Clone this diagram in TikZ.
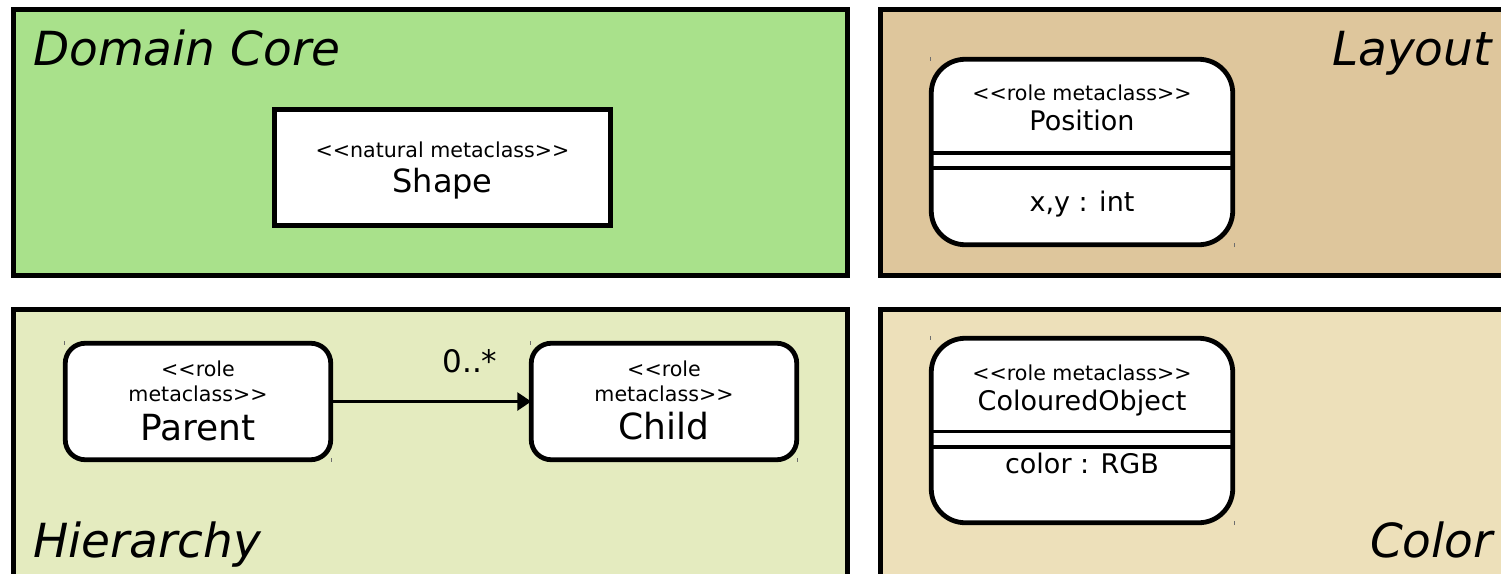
\documentclass[tikz,border=0pt]{standalone}
\usepackage{fontspec}
\setmainfont{DejaVu Sans}[Ligatures=TeXOff]
\usetikzlibrary{arrows.meta}

\definecolor{coreGreen}{RGB}{169,225,139}
\definecolor{layoutTan}{RGB}{222,198,156}
\definecolor{hierGreen}{RGB}{228,235,191}
\definecolor{colorTan}{RGB}{237,224,186}
\definecolor{tickGray}{RGB}{110,110,110}

\tikzset{
  panel/.style={draw=black, line width=5pt},
  title/.style={font=\fontsize{47}{56}\selectfont\itshape, inner sep=0pt},
  stereo/.style={font=\fontsize{20.6}{24}\selectfont, inner sep=0pt, anchor=base},
  cname/.style={font=\fontsize{27}{32}\selectfont, inner sep=0pt, anchor=base},
  bigname/.style={font=\fontsize{36}{43}\selectfont, inner sep=0pt, anchor=base},
  natbox/.style={draw=black, fill=white, line width=5pt, inner sep=0pt, outer sep=0pt},
  rolebox/.style={draw=black, fill=white, line width=4.8pt, inner sep=0pt, outer sep=0pt,
                  rounded corners=34pt},
  smallrole/.style={rolebox, rounded corners=20pt},
  compart/.style={draw=black, line width=3.5pt},
  assoc/.style={draw=black, line width=3pt, -{Triangle[length=14pt,width=18pt]}},
  tick/.style={draw=tickGray, line width=0.9pt},
}

\begin{document}
\begin{tikzpicture}[x=1pt, y=-1pt]
  \useasboundingbox (0,0) rectangle (1501,573);
  \clip (0,0) rectangle (1501,573);
  \fill[white] (0,0) rectangle (1501,573);

  % four package panels
  \filldraw[panel, fill=coreGreen] (13.5,9.5) rectangle (847.5,275.5);
  \filldraw[panel, fill=layoutTan] (880.5,9.5) rectangle (1530,275.5);
  \filldraw[panel, fill=hierGreen] (13.5,309.5) rectangle (847.5,600);
  \filldraw[panel, fill=colorTan]  (880.5,309.5) rectangle (1530,600);

  % panel titles
  \node[title, anchor=base west] (tcore) at (33,65) {Domain Core};
  \node[title, anchor=base east] (tlayout) at (1492,65) {Layout};
  \node[title, anchor=base west] (thier) at (33,557) {Hierarchy};
  \node[title, anchor=base east] (tcolor) at (1493,557) {Color};

  % Domain Core: natural metaclass
  \node[natbox, minimum width=336pt, minimum height=116pt] (shape) at (442.5,167.5) {};
  \node[stereo] (shapeSt) at (442.5,157.3) {<<natural metaclass>>};
  \node[font=\fontsize{32}{38}\selectfont, inner sep=0pt, anchor=base] (shapeNm) at (442.5,192.7) {Shape};

  % Layout: Position role
  \node[rolebox, minimum width=301.5pt, minimum height=185.5pt] (pos) at (1082,152) {};
  \draw[compart] ([yshift=-93.75pt]pos.north west) -- ([yshift=-93.75pt]pos.north east);
  \draw[compart] ([yshift=-108.75pt]pos.north west) -- ([yshift=-108.75pt]pos.north east);
  \node[stereo] (posSt) at (1082,100) {<<role metaclass>>};
  \node[cname] (posNm) at (1082,130) {Position};
  \node[cname] (posAt) at (1082,211.7) {x,y : int};
  \draw[tick] ([xshift=-0.5pt,yshift=2.3pt]pos.north west) -- ++(0,4);
  \draw[tick] ([xshift=1.5pt,yshift=-2.3pt]pos.south east) -- ++(0,-4);

  % Color: ColouredObject role
  \node[rolebox, minimum width=301.5pt, minimum height=184.5pt] (cobj) at (1082,430.5) {};
  \draw[compart] ([yshift=-93pt]cobj.north west) -- ([yshift=-93pt]cobj.north east);
  \draw[compart] ([yshift=-108.75pt]cobj.north west) -- ([yshift=-108.75pt]cobj.north east);
  \node[stereo] (cobjSt) at (1082,380) {<<role metaclass>>};
  \node[cname] (cobjNm) at (1082,410) {ColouredObject};
  \node[cname] (cobjAt) at (1082,473) {color : RGB};
  \draw[tick] ([xshift=-0.5pt,yshift=2.3pt]cobj.north west) -- ++(0,4);
  \draw[tick] ([xshift=1.5pt,yshift=-2.3pt]cobj.south east) -- ++(0,-4);

  % Hierarchy: Parent and Child roles
  \node[smallrole, minimum width=265.5pt, minimum height=116.5pt] (parent) at (198,401.5) {};
  \node[stereo] (parSt1) at (198,376) {<<role};
  \node[stereo] (parSt2) at (198,401) {metaclass>>};
  \node[bigname] (parNm) at (198,440) {Parent};
  \draw[tick] ([xshift=-1pt,yshift=2pt]parent.north west) -- ++(0,4);
  \draw[tick] ([xshift=1pt,yshift=-2pt]parent.south east) -- ++(0,-4);

  \node[smallrole, minimum width=265.5pt, minimum height=116.5pt] (child) at (664,401.5) {};
  \node[stereo] (chSt1) at (664,376) {<<role};
  \node[stereo] (chSt2) at (664,401) {metaclass>>};
  \node[bigname] (chNm) at (664,439.5) {Child};
  \draw[tick] ([xshift=-1pt,yshift=2pt]child.north west) -- ++(0,4);
  \draw[tick] ([xshift=1pt,yshift=-2pt]child.south east) -- ++(0,-4);

  % association with multiplicity
  \draw[assoc] (parent.east) -- (child.west);
  \node[font=\fontsize{31}{37}\selectfont, inner sep=0pt, anchor=base] (mult) at (470,372.7) {0..*};
\end{tikzpicture}
\end{document}
